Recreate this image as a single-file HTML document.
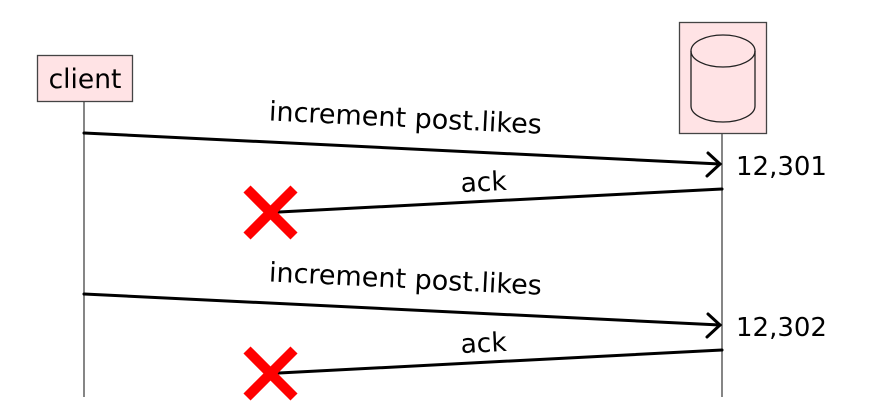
<!DOCTYPE html>
<html><head><meta charset="utf-8"><style>
html,body{margin:0;padding:0;background:#fff;width:892px;height:404px;overflow:hidden}
text{font-family:"DejaVu Sans","Liberation Sans",sans-serif;fill:#000}
</style></head><body>
<svg width="892" height="404" viewBox="0 0 892 404" xmlns="http://www.w3.org/2000/svg">
<rect x="37.5" y="55.5" width="95" height="46" fill="#ffe3e5" stroke="#444" stroke-width="1.3"/>
<text x="85" y="88" font-size="26.5" text-anchor="middle">client</text>
<line x1="84" y1="101" x2="84" y2="397" stroke="#444" stroke-width="1.3"/>
<rect x="679.5" y="22.5" width="87" height="111" fill="#ffe3e5" stroke="#444" stroke-width="1.3"/>
<path d="M691 51 A32 16 0 0 1 755 51 L755 106 A32 16 0 0 1 691 106 Z" fill="none" stroke="#222" stroke-width="1.3"/>
<path d="M691 51 A32 16 0 0 0 755 51" fill="none" stroke="#222" stroke-width="1.3"/>
<line x1="722" y1="133" x2="722" y2="397" stroke="#444" stroke-width="1.3"/>
<g stroke="#000" stroke-width="3" fill="none" stroke-linecap="round">
<line x1="84" y1="133" x2="720" y2="164"/>
<path d="M708 153 L720 164 L707 176"/>
<line x1="722" y1="189" x2="279" y2="212"/>
<line x1="84" y1="294" x2="720" y2="325"/>
<path d="M708 314 L720 325 L707 337"/>
<line x1="722" y1="350" x2="279" y2="373"/>
</g>
<g stroke="#f00" stroke-width="10">
<line x1="247" y1="189" x2="294" y2="236"/><line x1="294" y1="189" x2="247" y2="236"/>
<line x1="247" y1="350" x2="294" y2="397"/><line x1="294" y1="350" x2="247" y2="397"/>
</g>
<text x="405" y="127" font-size="27" text-anchor="middle" transform="rotate(2.8 405 127)">increment post.likes</text>
<text x="405" y="288" font-size="27" text-anchor="middle" transform="rotate(2.8 405 288)">increment post.likes</text>
<text x="484" y="191" font-size="26.5" text-anchor="middle" transform="rotate(-2.9 484 191)">ack</text>
<text x="484" y="352" font-size="26.5" text-anchor="middle" transform="rotate(-2.9 484 352)">ack</text>
<text x="736" y="175" font-size="26">12,301</text>
<text x="736" y="336" font-size="26">12,302</text>
</svg>
</body></html>
